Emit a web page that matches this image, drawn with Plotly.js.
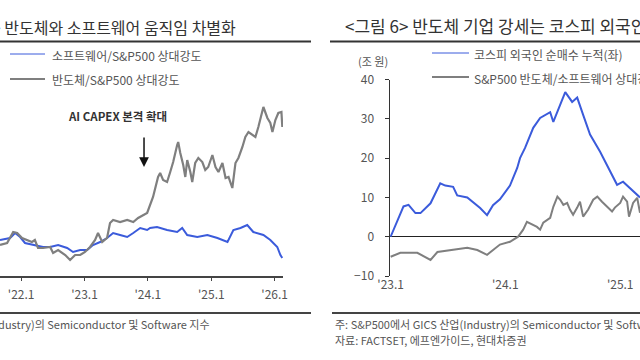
<!DOCTYPE html>
<html>
<head>
<meta charset="utf-8">
<script src="https://cdn.plot.ly/plotly-3.0.1.min.js"></script>
<style>html,body{margin:0;padding:0;background:#fff;}#chart{width:640px;height:360px;}</style>
</head>
<body>
<div id="chart"></div>
<script>
// ---------- Left chart: 반도체와 소프트웨어 움직임 차별화 ----------
const softDates = ['2021-09-01','2021-10-29','2021-11-27','2021-12-26','2022-01-23','2022-03-10','2022-05-07','2022-06-17','2022-08-02','2022-09-23','2022-10-27','2022-12-07','2023-01-16','2023-02-19','2023-04-01','2023-05-11','2023-06-15','2023-07-25','2023-09-04','2023-10-09','2023-11-18','2023-12-28','2024-01-14','2024-02-23','2024-04-21','2024-06-18','2024-07-17','2024-08-15','2024-10-12','2024-12-09','2025-02-05','2025-04-04','2025-05-08','2025-06-18','2025-07-27','2025-08-31','2025-10-28','2025-12-07','2026-01-16','2026-02-03','2026-02-14'];
const softVals = [100,103,110.5,104.5,95.5,92.5,89.5,89.5,92.5,88,82,85,85,92.5,97,103,110.5,107.5,104.5,110.5,118,115,118,119.5,115,112,118,107.5,104.5,107.5,103,97,115,118,122.5,112,107.5,100,89.5,77.5,73];

const semiDates = ['2021-09-01','2021-10-12','2021-11-16','2021-12-09','2022-01-06','2022-02-04','2022-03-04','2022-03-21','2022-04-08','2022-05-07','2022-06-17','2022-07-04','2022-08-02','2022-09-12','2022-10-10','2022-11-08','2022-12-07','2023-01-04','2023-02-02','2023-03-03','2023-03-20','2023-04-13','2023-05-11','2023-05-28','2023-06-15','2023-07-25','2023-09-04','2023-10-09','2023-11-06','2023-12-28','2024-01-14','2024-01-31','2024-02-29','2024-03-12','2024-03-29','2024-04-21','2024-05-09','2024-05-26','2024-06-18','2024-06-24','2024-07-06','2024-07-23','2024-08-04','2024-08-15','2024-09-02','2024-09-13','2024-09-30','2024-10-18','2024-11-10','2024-11-27','2024-12-14','2025-01-07','2025-01-25','2025-02-11','2025-03-06','2025-03-24','2025-04-10','2025-05-02','2025-05-20','2025-06-06','2025-06-29','2025-07-16','2025-08-03','2025-08-25','2025-09-12','2025-09-29','2025-10-22','2025-10-28','2025-11-20','2025-12-07','2025-12-19','2026-01-05','2026-01-22','2026-02-09','2026-02-14'];
const semiVals = [92.5,95.5,112,110.5,103,100,97,100,88,88,89.5,80.5,85,77.5,70,77.5,77.5,82,89.5,100,110.5,97,103,125.5,130,127,130,127,133,140.5,152.5,164.5,194.5,200.5,190,187,202,217,242.5,247,230.5,212.5,194.5,220,202,187,215.5,223,217,205,209.5,227.5,209.5,202,215.5,193,194.5,178,215.5,223,239.5,254.5,262,257.5,254.5,269.5,290.5,299.5,283,275.5,262,280,290.5,292,269.5];

const leftTickVals = ['2022-01-01','2023-01-01','2024-01-01','2025-01-01','2026-01-01'];
const leftTickText = ["'22.1","'23.1","'24.1","'25.1","'26.1"];

// ---------- Right chart: 반도체 기업 강세는 코스피 외국인 ----------
const kospiDates = ['2023-01-01','2023-02-11','2023-02-27','2023-03-21','2023-04-06','2023-05-08','2023-06-08','2023-06-24','2023-07-19','2023-08-01','2023-09-02','2023-10-13','2023-11-04','2023-11-23','2023-12-15','2024-01-16','2024-02-08','2024-02-17','2024-03-04','2024-03-30','2024-04-21','2024-05-23','2024-06-02','2024-06-24','2024-07-10','2024-08-01','2024-08-17','2024-09-05','2024-09-27','2024-10-29','2024-11-30','2024-12-22','2025-01-10','2025-02-11','2025-03-05'];
const kospiVals = [0,7.7,8.1,6.0,6.0,8.5,13.6,13.0,12.7,10.5,10.0,7.3,5.5,8.0,9.5,13.0,17.5,20.0,22.6,27.7,30.2,31.7,29.2,33.5,36.8,34.3,35.4,31.0,26.0,21.6,16.5,13.2,14.0,11.5,10.0];

const rsDates = ['2023-01-01','2023-02-01','2023-03-27','2023-05-08','2023-05-30','2023-08-01','2023-09-02','2023-10-04','2023-11-04','2023-12-15','2024-01-16','2024-02-11','2024-02-27','2024-03-10','2024-03-26','2024-04-11','2024-04-21','2024-05-01','2024-05-23','2024-06-02','2024-06-15','2024-06-24','2024-07-04','2024-07-16','2024-07-25','2024-08-04','2024-08-17','2024-08-26','2024-09-05','2024-09-21','2024-10-07','2024-10-20','2024-11-04','2024-11-20','2024-12-06','2024-12-15','2025-01-01','2025-01-10','2025-01-23','2025-01-29','2025-02-11','2025-02-24','2025-03-05'];
const rsVals = [-5.1,-4.1,-4.1,-5.9,-3.9,-3.1,-2.8,-3.4,-4.6,-2.0,-1.3,0,1.8,3.8,3.1,2.5,1.8,3.6,4.8,7.6,10.2,9.4,8.1,8.6,6.9,5.6,7.4,8.9,5.1,6.9,9.4,10.2,8.9,7.6,6.4,7.4,8.6,10.2,8.9,5.1,8.6,9.9,6.1];

const rightTickVals = ['2023-01-01','2024-01-01','2025-01-01'];
const rightTickText = ["'23.1","'24.1","'25.1"];
const rightYTicks = [-10,0,10,20,30,40];

// ---------- layout helpers ----------
const W = 640, H = 360;
const px = v => v / W;
const py = v => 1 - v / H;
const FONT = '"Noto Sans CJK KR", "Noto Sans", sans-serif';
const BLUE = '#3b5bdb';
const GRAY = '#7f7f7f';

const y2Dom = [py(276), py(79.5)];
const zeroPos = y2Dom[0] + (0 - (-10)) / 50 * (y2Dom[1] - y2Dom[0]);

const traces = [
  {x: softDates, y: softVals, type: 'scatter', mode: 'lines', xaxis: 'x', yaxis: 'y',
   line: {color: BLUE, width: 2}, name: '소프트웨어/S&P500 상대강도', showlegend: false},
  {x: semiDates, y: semiVals, type: 'scatter', mode: 'lines', xaxis: 'x', yaxis: 'y',
   line: {color: GRAY, width: 2.2}, name: '반도체/S&P500 상대강도', showlegend: false},
  {x: kospiDates, y: kospiVals, type: 'scatter', mode: 'lines', xaxis: 'x2', yaxis: 'y2',
   line: {color: BLUE, width: 2}, name: '코스피 외국인 순매수 누적(좌)', showlegend: false},
  {x: rsDates, y: rsVals, type: 'scatter', mode: 'lines', xaxis: 'x2', yaxis: 'y2',
   line: {color: GRAY, width: 2}, name: 'S&P500 반도체/소프트웨어 상대강도(우)', showlegend: false}
];

const txt = (t, x, y, opts) => Object.assign({
  text: t, xref: 'paper', yref: 'paper', x: px(x), y: py(y), showarrow: false,
  xanchor: 'left', yanchor: 'middle', font: {family: FONT, size: 12, color: '#555'}
}, opts || {});

const annotations = [
  txt('&lt;그림 5&gt; 반도체와 소프트웨어 움직임 차별화', -61, 27, {font: {family: FONT, size: 16, color: '#333'}}),
  txt('소프트웨어/S&P500 상대강도', 50, 55),
  txt('반도체/S&P500 상대강도', 50, 79),
  txt('<b>AI CAPEX 본격 확대</b>', 117, 116, {xanchor: 'center', font: {family: FONT, size: 11.5, color: '#333'}}),
  {x: '2023-12-10', y: 209.5, xref: 'x', yref: 'y', text: '', showarrow: true,
   ax: 0, ay: -31, arrowhead: 2, arrowsize: 1.3, arrowwidth: 1.5, arrowcolor: '#111'},
  txt('주: S&P500에서 GICS 산업(Industry)의 Semiconductor 및 Software 지수', 212, 324, {xanchor: 'right', font: {family: FONT, size: 11, color: '#555'}}),

  txt('&lt;그림 6&gt; 반도체 기업 강세는 코스피 외국인', 343, 26, {font: {family: FONT, size: 17, color: '#333'}}),
  txt('(조 원)', 373, 61, {xanchor: 'center', font: {family: FONT, size: 11, color: '#555'}}),
  txt('코스피 외국인 순매수 누적(좌)', 472, 54),
  txt('S&P500 반도체/소프트웨어 상대강도(우)', 472, 78),
  txt('주: S&P500에서 GICS 산업(Industry)의 Semiconductor 및 Software 지수', 333, 324, {font: {family: FONT, size: 11, color: '#555'}}),
  txt('자료: FACTSET, 에프엔가이드, 현대차증권', 333, 340, {font: {family: FONT, size: 11, color: '#555'}})
];

const hline = (x0, x1, y, color, width) => ({type: 'line', xref: 'paper', yref: 'paper',
  x0: px(x0), x1: px(x1), y0: py(y), y1: py(y), line: {color: color, width: width}});

const shapes = [
  hline(-2, 311, 41.5, '#333', 2),
  hline(10, 45, 54, BLUE, 1),
  hline(10, 45, 79, '#555', 1.5),
  hline(-2, 311, 313, '#444', 2),
  hline(330, 642, 41.5, '#333', 2),
  hline(432, 469, 53, BLUE, 1),
  hline(432, 469, 77, '#555', 1.5),
  hline(332, 642, 313, '#444', 2)
];

const layout = {
  width: W, height: H,
  margin: {l: 0, r: 0, t: 0, b: 0},
  paper_bgcolor: '#fff', plot_bgcolor: 'rgba(0,0,0,0)',
  showlegend: false,
  font: {family: FONT, color: '#555'},
  xaxis: {domain: [0, px(283)], range: ['2021-09-01', '2026-02-18'], type: 'date', anchor: 'y',
    showline: true, linecolor: '#444', linewidth: 1.5, ticks: 'outside', ticklen: 3, tickcolor: '#444',
    tickvals: leftTickVals, ticktext: leftTickText, ticklabelstandoff: 4,
    tickfont: {family: FONT, size: 12, color: '#555'}, showgrid: false, zeroline: false},
  yaxis: {domain: [py(276), py(95)], range: [46, 317.5], visible: false, anchor: 'x', fixedrange: true},
  xaxis2: {domain: [px(390), 1], range: ['2022-12-30', '2025-03-05'], type: 'date', anchor: 'y2',
    showline: false, ticks: '', tickvals: rightTickVals, ticktext: rightTickText,
    tickfont: {family: FONT, size: 12, color: '#555'}, showgrid: false, zeroline: false},
  xaxis3: {domain: [px(390), 1], range: ['2022-12-30', '2025-03-05'], type: 'date', overlaying: 'x2',
    anchor: 'free', position: zeroPos, showline: false, ticks: 'outside', ticklen: 3, tickcolor: '#222',
    tickvals: rightTickVals.slice(1), showticklabels: false, showgrid: false, zeroline: false},
  yaxis2: {domain: y2Dom, range: [-10, 40], anchor: 'x2', showline: true, linecolor: '#333', linewidth: 1.5,
    ticks: 'outside', ticklen: 4, tickcolor: '#333', tickvals: rightYTicks, ticklabelstandoff: 8,
    tickfont: {family: FONT, size: 12, color: '#555'}, showgrid: false,
    zeroline: true, zerolinecolor: '#222', zerolinewidth: 1.5},
  annotations: annotations,
  shapes: shapes
};

Plotly.newPlot('chart', traces, layout, {staticPlot: true, displayModeBar: false});
</script>
</body>
</html>
